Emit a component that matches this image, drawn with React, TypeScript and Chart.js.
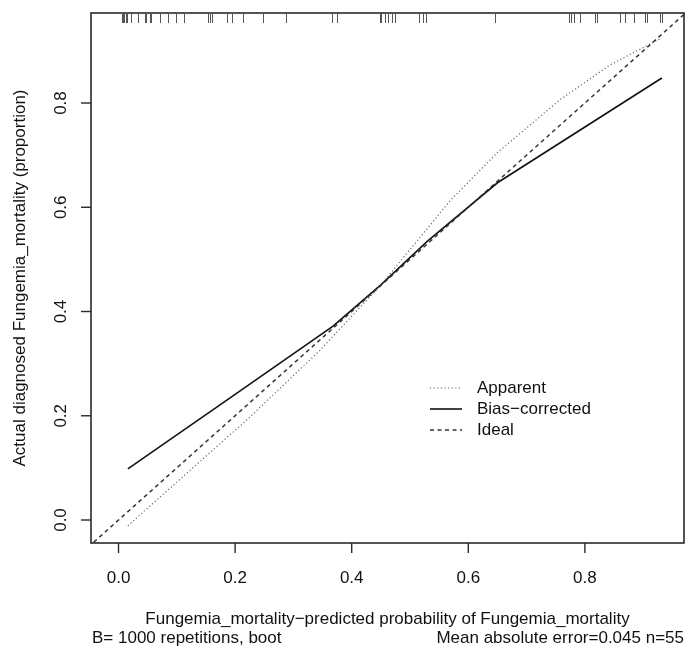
import React, { useEffect, useRef } from "react";
import { Chart, registerables } from "chart.js";

Chart.register(...registerables);

// ---- data ----
const apparentX = [0.016, 0.22, 0.346, 0.45, 0.57, 0.65, 0.757, 0.843, 0.932];
const apparentY = [-0.011, 0.192, 0.326, 0.451, 0.614, 0.705, 0.806, 0.873, 0.925];

const biasX = [0.016, 0.2, 0.368, 0.45, 0.53, 0.65, 0.932];
const biasY = [0.098, 0.241, 0.372, 0.451, 0.535, 0.647, 0.848];

const idealX = [-0.1, 1.1];
const idealY = [-0.1, 1.1];

const rugValues = [
  0.0065, 0.0082, 0.0099, 0.0124, 0.0151, 0.021, 0.034, 0.0455, 0.047, 0.054,
  0.056, 0.071, 0.085, 0.099, 0.113, 0.154, 0.157, 0.16, 0.186, 0.194, 0.214,
  0.247, 0.287, 0.366, 0.374, 0.449, 0.451, 0.457, 0.463, 0.469, 0.474, 0.516,
  0.522, 0.527, 0.645, 0.773, 0.777, 0.781, 0.792, 0.817, 0.82, 0.86, 0.869,
  0.885, 0.903, 0.906, 0.928, 0.932,
];

const xTickValues = [0, 0.2, 0.4, 0.6, 0.8];
const xTickLabels = ["0.0", "0.2", "0.4", "0.6", "0.8"];
const yTickValues = [0, 0.2, 0.4, 0.6, 0.8];
const yTickLabels = ["0.0", "0.2", "0.4", "0.6", "0.8"];

const xRange = [-0.0472, 0.97];
const yRange = [-0.0441, 0.9727];

const legendLabels = ["Apparent", "Bias\u2212corrected", "Ideal"];
const xTitle = "Fungemia_mortality\u2212predicted probability of Fungemia_mortality";
const yTitle = "Actual diagnosed Fungemia_mortality (proportion)";
const subLeft = "B= 1000 repetitions, boot";
const subRight = "Mean absolute error=0.045 n=55";

const FONT = '17px "Liberation Sans", Arial, Helvetica, sans-serif';
const TEXT = "#111";

const zip = (xs: number[], ys: number[]) => xs.map((x, i) => ({ x, y: ys[i] }));

const decorPlugin = {
  id: "rdecor",
  afterDatasetsDraw(chart: any) {
    const { ctx, chartArea, scales } = chart;
    const xs = scales.x;
    const ys = scales.y;
    const { left, right, top, bottom } = chartArea;
    ctx.save();

    // box
    ctx.strokeStyle = "#2a2a2a";
    ctx.lineWidth = 1.6;
    ctx.setLineDash([]);
    ctx.strokeRect(left, top, right - left, bottom - top);

    // rug
    ctx.strokeStyle = "#555";
    ctx.lineWidth = 1;
    rugValues.forEach((v) => {
      const px = Math.round(xs.getPixelForValue(v)) + 0.5;
      ctx.beginPath();
      ctx.moveTo(px, top);
      ctx.lineTo(px, top + 10);
      ctx.stroke();
    });

    // ticks
    ctx.strokeStyle = "#2a2a2a";
    ctx.lineWidth = 1.4;
    ctx.font = FONT;
    ctx.fillStyle = TEXT;
    ctx.textAlign = "center";
    ctx.textBaseline = "middle";
    xTickValues.forEach((v, i) => {
      const px = xs.getPixelForValue(v);
      ctx.beginPath();
      ctx.moveTo(px, bottom);
      ctx.lineTo(px, bottom + 10);
      ctx.stroke();
      ctx.fillText(xTickLabels[i], px, bottom + 35);
    });
    yTickValues.forEach((v, i) => {
      const py = ys.getPixelForValue(v);
      ctx.beginPath();
      ctx.moveTo(left - 10, py);
      ctx.lineTo(left, py);
      ctx.stroke();
      ctx.save();
      ctx.translate(left - 30, py);
      ctx.rotate(-Math.PI / 2);
      ctx.fillText(yTickLabels[i], 0, 0);
      ctx.restore();
    });

    // titles
    ctx.fillText(xTitle, (left + right) / 2, bottom + 76);
    ctx.save();
    ctx.translate(left - 71, (top + bottom) / 2);
    ctx.rotate(-Math.PI / 2);
    ctx.fillText(yTitle, 0, 0);
    ctx.restore();
    ctx.textAlign = "left";
    ctx.fillText(subLeft, left + 1, bottom + 95);
    ctx.textAlign = "right";
    ctx.fillText(subRight, right, bottom + 95);

    // legend
    const lx0 = 430;
    const lx1 = 462;
    const rows = [388, 409, 430];
    const styles = [
      { color: "#666", dash: [1.2, 2.4], width: 1.2 },
      { color: "#111", dash: [], width: 1.6 },
      { color: "#333", dash: [4, 3.5], width: 1.5 },
    ];
    rows.forEach((ry, i) => {
      const s = styles[i];
      ctx.strokeStyle = s.color;
      ctx.lineWidth = s.width;
      ctx.setLineDash(s.dash);
      ctx.beginPath();
      ctx.moveTo(lx0, ry);
      ctx.lineTo(lx1, ry);
      ctx.stroke();
      ctx.setLineDash([]);
      ctx.textAlign = "left";
      ctx.fillText(legendLabels[i], 477, ry);
    });

    ctx.restore();
  },
};

export default function App() {
  const ref = useRef<HTMLCanvasElement | null>(null);
  useEffect(() => {
    document.body.style.margin = "0";
    const canvas = ref.current;
    if (!canvas) return;
    const chart = new Chart(canvas, {
      type: "line",
      data: {
        datasets: [
          {
            label: "Ideal",
            data: zip(idealX, idealY),
            borderColor: "#333",
            borderWidth: 1.5,
            borderDash: [4, 3.5],
            pointRadius: 0,
            tension: 0,
          },
          {
            label: "Apparent",
            data: zip(apparentX, apparentY),
            borderColor: "#666",
            borderWidth: 1.2,
            borderDash: [1.2, 2.4],
            pointRadius: 0,
            tension: 0,
          },
          {
            label: "Bias-corrected",
            data: zip(biasX, biasY),
            borderColor: "#111",
            borderWidth: 1.6,
            pointRadius: 0,
            tension: 0,
          },
        ],
      },
      options: {
        responsive: false,
        animation: false,
        parsing: true,
        layout: { padding: { left: 91, top: 13, right: 4, bottom: 107 } },
        plugins: {
          legend: { display: false },
          tooltip: { enabled: false },
        },
        scales: {
          x: { type: "linear", min: xRange[0], max: xRange[1], display: false },
          y: { type: "linear", min: yRange[0], max: yRange[1], display: false },
        },
      },
      plugins: [decorPlugin],
    });
    return () => chart.destroy();
  }, []);
  return (
    <div style={{ position: "fixed", left: 0, top: 0, width: 688, height: 650, background: "#fff" }}>
      <canvas ref={ref} width={688} height={650} />
    </div>
  );
}
